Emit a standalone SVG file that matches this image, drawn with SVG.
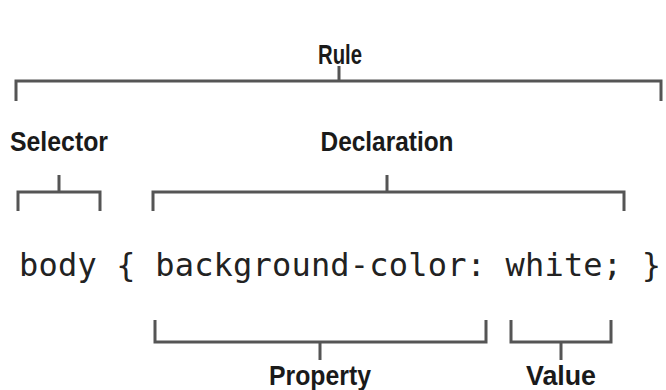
<svg xmlns="http://www.w3.org/2000/svg" width="666" height="390" viewBox="0 0 666 390">
  <style>
    .lbl { font-family: "Liberation Sans Narrow", "Liberation Sans", Arial, sans-serif; font-weight: bold; font-size: 28px; fill: #1a1a1a; text-anchor: middle; }
    .code { font-family: "DejaVu Sans Mono", "Liberation Mono", monospace; font-size: 32px; fill: #222; }
    .br { fill: none; stroke: #555; stroke-width: 3; stroke-linecap: butt; stroke-linejoin: miter; }
  </style>
  <rect width="666" height="390" fill="#fff"/>
  <g id="connectors">
    <path class="br" d="M16,101 V81 H661 V101 M339,81 V66"/>
    <path class="br" d="M18,211 V192 H100 V211 M59,192 V175"/>
    <path class="br" d="M153,211 V192 H624 V211 M387,192 V175"/>
    <path class="br" d="M155,320 V342 H486 V320 M320,342 V360"/>
    <path class="br" d="M511,320 V342 H611 V320 M561,342 V360"/>
  </g>
  <g id="rule"><text class="lbl" x="340" y="64" textLength="44" lengthAdjust="spacingAndGlyphs">Rule</text></g>
  <g id="selector"><text class="lbl" x="59" y="151" textLength="98" lengthAdjust="spacingAndGlyphs">Selector</text></g>
  <g id="declaration"><text class="lbl" x="387" y="151" textLength="133" lengthAdjust="spacingAndGlyphs">Declaration</text></g>
  <g id="code"><text class="code" x="19" y="276" textLength="642" lengthAdjust="spacing">body { background-color: white; }</text></g>
  <g id="property"><text class="lbl" x="320" y="385" textLength="102" lengthAdjust="spacingAndGlyphs">Property</text></g>
  <g id="value"><text class="lbl" x="561" y="385" textLength="70" lengthAdjust="spacingAndGlyphs">Value</text></g>
</svg>
